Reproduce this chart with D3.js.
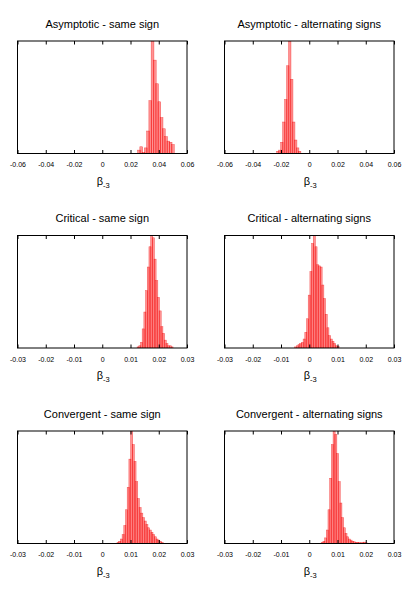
<!DOCTYPE html>
<html>
<head>
<script src="https://d3js.org/d3.v7.min.js"></script>
<style>
  body { margin: 0; background: #fff; }
  text { font-family: "Liberation Sans", Arial, sans-serif; fill: #000; }
  .frame { fill: none; stroke: #000; stroke-width: 1; }
  .bar { fill: red; fill-opacity: 0.42; stroke: #e00; stroke-width: 0.5; stroke-opacity: 0.6; }
</style>
</head>
<body>
<svg id="chart" width="415" height="593"></svg>
<script>
// panel titles, row by row
var titles = [
  "Asymptotic - same sign", "Asymptotic - alternating signs",
  "Critical - same sign", "Critical - alternating signs",
  "Convergent - same sign", "Convergent - alternating signs"
];
var wideTicks = [-0.06, -0.04, -0.02, 0, 0.02, 0.04, 0.06];
var narrowTicks = [-0.03, -0.02, -0.01, 0, 0.01, 0.02, 0.03];
var binWidths = [0.0016, 0.0014, 0.0006, 0.0006, 0.0006, 0.0006];

// bin centres and relative heights (peak = 1)
var asymSameX = [0.0260, 0.0276, 0.0292, 0.0308, 0.0324, 0.0340, 0.0356, 0.0372, 0.0388, 0.0404, 0.0420, 0.0436, 0.0452, 0.0468, 0.0484, 0.0500];
var asymSameY = [0.03, 0.06, 0.01, 0.05, 0.20, 0.47, 1.00, 0.83, 0.62, 0.46, 0.32, 0.22, 0.15, 0.11, 0.10, 0.08];

var asymAltX = [-0.0222, -0.0208, -0.0194, -0.0180, -0.0166, -0.0152, -0.0138, -0.0124, -0.0110, -0.0096, -0.0082, -0.0068];
var asymAltY = [0.02, 0.03, 0.10, 0.28, 0.48, 0.78, 1.00, 0.66, 0.28, 0.12, 0.05, 0.02];

var critSameX = [0.0127, 0.0133, 0.0139, 0.0145, 0.0151, 0.0157, 0.0163, 0.0169, 0.0175, 0.0181, 0.0187, 0.0193, 0.0199, 0.0205, 0.0211, 0.0217, 0.0223, 0.0229, 0.0235, 0.0241, 0.0247];
var critSameY = [0.01, 0.02, 0.05, 0.17, 0.32, 0.51, 0.72, 0.90, 1.00, 0.98, 0.79, 0.60, 0.45, 0.33, 0.19, 0.13, 0.07, 0.04, 0.02, 0.02, 0.01];

var critAltX = [-0.0048, -0.0042, -0.0036, -0.0030, -0.0024, -0.0018, -0.0012, -0.0006, 0.0000, 0.0006, 0.0012, 0.0018, 0.0024, 0.0030, 0.0036, 0.0042, 0.0048, 0.0054, 0.0060, 0.0066, 0.0072, 0.0078, 0.0084, 0.0090, 0.0096, 0.0102];
var critAltY = [0.01, 0.02, 0.03, 0.04, 0.05, 0.08, 0.14, 0.26, 0.47, 0.68, 0.93, 1.00, 0.90, 0.74, 0.73, 0.72, 0.56, 0.44, 0.30, 0.18, 0.11, 0.08, 0.06, 0.04, 0.02, 0.015];

var convSameX = [0.0056, 0.0062, 0.0068, 0.0074, 0.0080, 0.0086, 0.0092, 0.0098, 0.0104, 0.0110, 0.0116, 0.0122, 0.0128, 0.0134, 0.0140, 0.0146, 0.0152, 0.0158, 0.0164, 0.0170, 0.0176, 0.0182, 0.0188, 0.0194, 0.0200, 0.0206, 0.0212];
var convSameY = [0.01, 0.02, 0.04, 0.08, 0.16, 0.30, 0.50, 0.75, 1.00, 0.88, 0.73, 0.55, 0.40, 0.32, 0.27, 0.23, 0.20, 0.17, 0.14, 0.12, 0.10, 0.08, 0.06, 0.04, 0.03, 0.02, 0.01];

var convAltX = [0.0046, 0.0052, 0.0058, 0.0064, 0.0070, 0.0076, 0.0082, 0.0088, 0.0094, 0.0100, 0.0106, 0.0112, 0.0118, 0.0124, 0.0130, 0.0136, 0.0142, 0.0148, 0.0154, 0.0160, 0.0166, 0.0172, 0.0178, 0.0184, 0.0190, 0.0196, 0.0202];
var convAltY = [0.01, 0.02, 0.05, 0.12, 0.30, 0.58, 0.88, 1.00, 0.97, 0.80, 0.55, 0.36, 0.23, 0.14, 0.09, 0.06, 0.04, 0.03, 0.02, 0.015, 0.01, 0.01, 0.008, 0.006, 0.008, 0.012, 0.006];

var panelX = [asymSameX, asymAltX, critSameX, critAltX, convSameX, convAltX];
var panelY = [asymSameY, asymAltY, critSameY, critAltY, convSameY, convAltY];

var colLeft = [17.5, 224.5];
var rowTop = [41, 235.5, 431];
var pw = 169.5, ph = 112.5;

var svg = d3.select("#chart");

function fmt(d) { return d === 0 ? "0" : d.toFixed(2); }

titles.forEach(function(title, i) {
  var ticks = i < 2 ? wideTicks : narrowTicks;
  var left = colLeft[i % 2], top = rowTop[Math.floor(i / 2)];
  var g = svg.append("g").attr("transform", "translate(" + left + "," + top + ")");

  var x = d3.scaleLinear().domain([ticks[0], ticks[ticks.length - 1]]).range([0, pw]);
  var y = d3.scaleLinear().domain([0, 1]).range([ph, 0]);

  // clip so the peaks stop at the frame
  g.append("clipPath").attr("id", "clip" + i)
    .append("rect").attr("width", pw).attr("height", ph);

  // boxes a bit wider than the bin, so neighbours overlap
  var bw = binWidths[i] * 0.62;
  var bins = panelX[i].map(function(c, j) { return { c: c, h: panelY[i][j] }; });
  g.append("g").attr("clip-path", "url(#clip" + i + ")")
    .selectAll("rect").data(bins).enter().append("rect")
    .attr("class", "bar")
    .attr("x", function(d) { return x(d.c - bw); })
    .attr("width", function(d) { return x(d.c + bw) - x(d.c - bw); })
    .attr("y", function(d) { return y(d.h); })
    .attr("height", function(d) { return ph - y(d.h); });

  // bottom axis with inward ticks
  var xb = g.append("g").attr("transform", "translate(0," + ph + ")")
    .call(d3.axisBottom(x).tickValues(ticks).tickFormat(fmt).tickSize(-3.5).tickPadding(9));
  xb.select(".domain").remove();
  xb.selectAll("text").attr("font-size", 7).attr("font-family", "Liberation Sans, Arial, sans-serif");

  // mirrored ticks on top
  var xt = g.append("g")
    .call(d3.axisTop(x).tickValues(ticks).tickFormat("").tickSize(-3.5));
  xt.select(".domain").remove();

  g.append("rect").attr("class", "frame").attr("width", pw).attr("height", ph);

  g.append("text").attr("x", pw / 2).attr("y", -13.5)
    .attr("text-anchor", "middle").attr("font-size", 11).text(title);

  var lab = g.append("text").attr("x", pw / 2 + 1).attr("y", ph + 31)
    .attr("text-anchor", "middle").attr("font-size", 11);
  lab.append("tspan").text("β");
  lab.append("tspan").attr("dy", 3).attr("font-size", 7.5).text("-3");
});
</script>
</body>
</html>
